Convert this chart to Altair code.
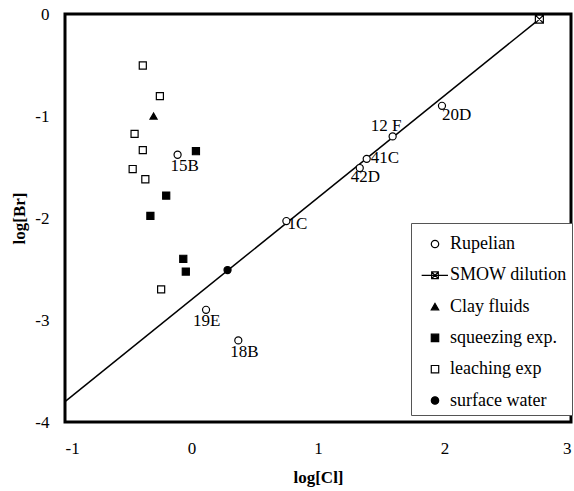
import altair as alt
import pandas as pd

# ---- data ----
rup_names = ["15B", "1C", "19E", "18B", "42D", "41C", "12 F", "20D"]
rup_x = [-0.11, 0.75, 0.115, 0.37, 1.33, 1.385, 1.59, 1.98]
rup_y = [-1.38, -2.03, -2.90, -3.20, -1.51, -1.42, -1.20, -0.90]

smow_x = [2.75]
smow_y = [-0.05]

dil_x = [-1.0, 2.75]
dil_y = [-3.80, -0.05]

clay_x = [-0.30]
clay_y = [-1.00]

sq_x = [0.035, -0.20, -0.325, -0.065, -0.045]
sq_y = [-1.345, -1.78, -1.98, -2.40, -2.525]

leach_x = [-0.385, -0.25, -0.45, -0.385, -0.465, -0.365, -0.24]
leach_y = [-0.505, -0.805, -1.175, -1.335, -1.52, -1.62, -2.70]

surf_x = [0.285]
surf_y = [-2.51]

groups = ["Rupelian", "SMOW dilution", "Clay fluids", "squeezing exp.",
          "leaching exp", "surface water"]

# ---- tables ----
rows = []
for n, xv, yv in zip(rup_names, rup_x, rup_y):
    rows.append({"group": "Rupelian", "name": n, "x": xv, "y": yv})
for g, xs, ys in [("Clay fluids", clay_x, clay_y),
                  ("squeezing exp.", sq_x, sq_y),
                  ("leaching exp", leach_x, leach_y),
                  ("surface water", surf_x, surf_y)]:
    for xv, yv in zip(xs, ys):
        rows.append({"group": g, "name": "", "x": xv, "y": yv})
pts = pd.DataFrame(rows)
rup = pd.DataFrame({"name": rup_names, "x": rup_x, "y": rup_y})
smow = pd.DataFrame({"x": smow_x, "y": smow_y})
dil = pd.DataFrame({"x": dil_x, "y": dil_y})

FONT = "Liberation Serif"

xscale = alt.Scale(domain=[-1, 3], nice=False, zero=False)
yscale = alt.Scale(domain=[-4, 0], nice=False, zero=False)

X = alt.X("x:Q", scale=xscale,
          axis=alt.Axis(values=[-1, 0, 1, 2, 3], title="log[Cl]", grid=False,
                        domain=False, ticks=False, labelPadding=18,
                        labelFont=FONT, labelFontSize=17, labelColor="black",
                        titleFont=FONT, titleFontSize=17, titleFontWeight="bold",
                        titleColor="black", titlePadding=13,
                        labelExpr="'' + datum.value"))
Y = alt.Y("y:Q", scale=yscale,
          axis=alt.Axis(values=[-4, -3, -2, -1, 0], title="log[Br]", grid=False,
                        domain=False, ticks=False, labelPadding=16,
                        labelFont=FONT, labelFontSize=17, labelColor="black",
                        titleFont=FONT, titleFontSize=17, titleFontWeight="bold",
                        titleColor="black", titlePadding=6,
                        labelExpr="'' + datum.value"))

smow_legend_path = "M-3.6,0L3.5,0M-0.9,-0.9L0.9,-0.9L0.9,0.9L-0.9,0.9ZM-0.9,-0.9L0.9,0.9M-0.9,0.9L0.9,-0.9"
smow_plot_path = "M-1,-1L1,-1L1,1L-1,1ZM-1,-1L1,1M-1,1L1,-1"

leg = alt.Legend(title=" ", titleFontSize=5, titlePadding=2,
                 orient="none", legendX=346, legendY=209,
                 padding=5, rowPadding=13.3, symbolOffset=10, labelOffset=6,
                 labelFont=FONT, labelFontSize=18, labelColor="black",
                 symbolSize=55, symbolStrokeColor="black", symbolStrokeWidth=1.2,
                 strokeColor="#555555", fillColor="white", labelLimit=300)

points = alt.Chart(pts).mark_point(filled=True, stroke="black", strokeWidth=1.2,
                                   opacity=1, size=50).encode(
    x=X, y=Y,
    color=alt.Color("group:N", legend=leg,
                    scale=alt.Scale(domain=groups,
                                    range=["white", "white", "black", "black", "white", "black"])),
    shape=alt.Shape("group:N", legend=leg,
                    scale=alt.Scale(domain=groups,
                                    range=["circle", smow_legend_path, "triangle-up",
                                           "square", "square", "circle"])),
)

line = alt.Chart(dil).mark_line(color="black", strokeWidth=1.5).encode(x=X, y=Y)

smow_pt = alt.Chart(smow).mark_point(shape=smow_plot_path, size=64, filled=True,
                                     fill="white", stroke="black", strokeWidth=1.2,
                                     opacity=1).encode(x=X, y=Y)

label_offsets = {"15B": (-7, 11), "1C": (1, 3), "19E": (-13, 11), "18B": (-8, 12),
                 "42D": (-9, 9), "41C": (4, -1), "12 F": (-22, -10), "20D": (0, 9)}

labels = []
for n in rup_names:
    dx, dy = label_offsets[n]
    labels.append(
        alt.Chart(rup).transform_filter(alt.datum.name == n)
        .mark_text(align="left", baseline="middle", dx=dx, dy=dy,
                   font=FONT, fontSize=17, color="black")
        .encode(x=X, y=Y, text="name:N")
    )

chart = alt.layer(line, *labels, points, smow_pt).properties(
    width=506, height=408,
    padding={"left": 65, "top": 14, "right": 3, "bottom": 69},
    autosize=alt.AutoSizeParams(type="none"),
    background="white",
).configure_view(stroke="black", strokeWidth=3)

chart.save("out.html", embed_options={"renderer": "svg", "actions": False})
